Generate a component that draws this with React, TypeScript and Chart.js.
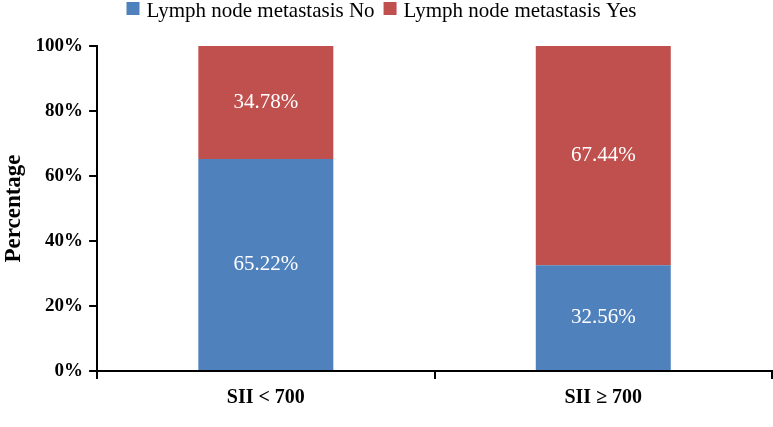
import React, { useEffect, useRef } from "react";
import { Chart, registerables } from "chart.js";

Chart.register(...registerables);

const categories = ["SII < 700", "SII \u2265 700"];
const seriesNames = ["Lymph node metastasis No", "Lymph node metastasis Yes"];
const noValues = [65.22, 32.56];
const yesValues = [34.78, 67.44];
const colors = ["#4F81BD", "#C0504D"];
const yTicks = [0, 20, 40, 60, 80, 100];

const FONT = "'Liberation Serif', 'Times New Roman', serif";

const dataLabelPlugin = {
  id: "dataLabels",
  afterDatasetsDraw(chart: any) {
    const ctx = chart.ctx;
    ctx.save();
    ctx.fillStyle = "#ffffff";
    ctx.font = `21px ${FONT}`;
    ctx.textAlign = "center";
    ctx.textBaseline = "middle";
    chart.data.datasets.forEach((ds: any, di: number) => {
      const meta = chart.getDatasetMeta(di);
      meta.data.forEach((el: any, i: number) => {
        const v = ds.data[i];
        const y = (el.y + el.base) / 2;
        ctx.fillText(v.toFixed(2) + "%", el.x, y);
      });
    });
    ctx.restore();
  },
};

const legendPlugin = {
  id: "customLegend",
  afterDraw(chart: any) {
    const ctx = chart.ctx;
    ctx.save();
    ctx.font = `21px ${FONT}`;
    const box = 13;
    const gapBoxText = 7;
    const gapItems = 9;
    const items = chart.data.datasets.map((ds: any) => ({
      label: ds.label,
      color: ds.backgroundColor,
      w: box + gapBoxText + ctx.measureText(ds.label).width,
    }));
    const total = items.reduce((s: number, it: any) => s + it.w, 0) + gapItems * (items.length - 1);
    let x = chart.width / 2 - total / 2 - 5;
    ctx.textBaseline = "alphabetic";
    ctx.textAlign = "left";
    items.forEach((it: any) => {
      ctx.fillStyle = it.color;
      ctx.fillRect(x, 2, box, box);
      ctx.fillStyle = "#000";
      ctx.fillText(it.label, x + box + gapBoxText, 17);
      x += it.w + gapItems;
    });
    ctx.restore();
  },
};

export default function App() {
  const ref = useRef<HTMLCanvasElement>(null);
  useEffect(() => {
    document.body.style.margin = "0";
    const chart = new Chart(ref.current!, {
      type: "bar",
      data: {
        labels: categories,
        datasets: [
          { label: seriesNames[0], data: noValues, backgroundColor: colors[0], barPercentage: 1, categoryPercentage: 0.4 },
          { label: seriesNames[1], data: yesValues, backgroundColor: colors[1], barPercentage: 1, categoryPercentage: 0.4 },
        ],
      },
      plugins: [dataLabelPlugin, legendPlugin],
      options: {
        responsive: false,
        animation: false,
        devicePixelRatio: 1,
        layout: { padding: { top: 46, right: 1, bottom: 10, left: 0 } },
        plugins: {
          legend: { display: false },
          tooltip: { enabled: false },
        },
        scales: {
          x: {
            stacked: true,
            offset: true,
            grid: { display: true, offset: true, drawOnChartArea: false, drawTicks: true, tickLength: 8, color: "#000", lineWidth: 2 },
            border: { display: true, color: "#000", width: 2 },
            ticks: { color: "#000", font: { family: FONT, size: 20, weight: "bold" }, padding: 7 },
          },
          y: {
            stacked: true,
            min: 0,
            max: 100,
            afterBuildTicks(axis: any) {
              axis.ticks = yTicks.map((v) => ({ value: v }));
            },
            grid: { display: true, drawOnChartArea: false, drawTicks: true, tickLength: 8, color: "#000", lineWidth: 2 },
            border: { display: true, color: "#000", width: 2 },
            ticks: {
              color: "#000",
              font: { family: FONT, size: 19, weight: "bold" },
              padding: 6,
              callback: (v: any) => v + "%",
            },
            title: {
              display: true,
              text: "Percentage",
              color: "#000",
              font: { family: FONT, size: 23, weight: "bold" },
              padding: { top: 0, bottom: 2 },
            },
          },
        },
      },
    } as any);
    return () => chart.destroy();
  }, []);
  return (
    <div style={{ position: "fixed", left: 0, top: 0, width: 773, height: 427, background: "#fff" }}>
      <canvas ref={ref} width={773} height={427} />
    </div>
  );
}
